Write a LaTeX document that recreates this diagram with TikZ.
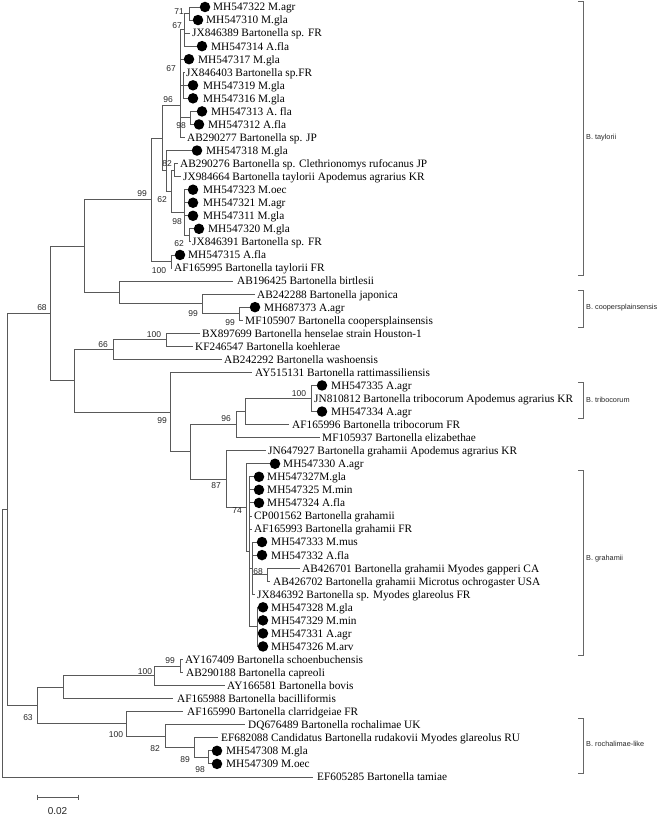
\documentclass[tikz,border=0pt]{standalone}
\usepackage{fontspec}
\setmainfont{Liberation Serif}
\newfontfamily\arialf{Liberation Sans}
\tikzset{
  br/.style={draw=black!65, line width=0.9pt},
  dot/.style={circle, fill=black, inner sep=0pt, minimum size=10.5pt},
  lab/.style={anchor=base west, inner sep=0pt, yshift=-3.9pt, font=\fontsize{11.3}{13}\selectfont},
  bs/.style={font=\arialf\fontsize{8.5}{9}\selectfont, inner sep=0pt, text=black!85},
  brk/.style={draw=black!60, line width=0.9pt},
  cl/.style={anchor=west, font=\arialf\fontsize{7.3}{8}\selectfont, inner sep=0pt, text=black!85}
}
\newcommand{\lfd}[6]{%
  \coordinate (e#1) at (#4,#3);
  \draw[br] (#2) |- (e#1);
  \node[dot] (d#1) at (#4,#3) {};
  \node[lab] (t#1) at (#5,#3) {#6};
}
\newcommand{\lfp}[6]{%
  \coordinate (e#1) at (#4,#3);
  \draw[br] (#2) |- (e#1);
  \node[lab] (t#1) at (#5,#3) {#6};
}
\begin{document}
\begin{tikzpicture}[x=1pt, y=-1pt]
\useasboundingbox (0,0) rectangle (660,818);
% internal nodes
\coordinate (n12) at (189,13.53);
\coordinate (n14) at (184,29.84);
\coordinate (n68) at (183,85.3);
\coordinate (n910) at (190,117.93);
\coordinate (N67) at (180.6,73.88);
\coordinate (N96) at (180,105.69);
\coordinate (n1314) at (174,170.13);
\coordinate (n1819) at (189,235.38);
\coordinate (N98) at (184,212.54);
\coordinate (N62) at (171,191.33);
\coordinate (B) at (166,170.94);
\coordinate (A) at (162,138.31);
\coordinate (n2021) at (171,261.48);
\coordinate (N99) at (151,199.9);
\coordinate (S) at (239,313.68);
\coordinate (R) at (202,303.89);
\coordinate (Q) at (119,292.47);
\coordinate (P) at (84,246.18);
\coordinate (W) at (166,339.78);
\coordinate (U) at (113,349.56);
\coordinate (n3032) at (311,398.5);
\coordinate (N100t) at (245,411.55);
\coordinate (N96t) at (236,424.6);
\coordinate (N68g) at (267,574.68);
\coordinate (G2) at (252,568.15);
\coordinate (G3) at (257,626.88);
\coordinate (G1) at (249,551.84);
\coordinate (N74) at (246,507.8);
\coordinate (N87) at (226,479.25);
\coordinate (X) at (190,451.93);
\coordinate (V) at (170,412.16);
\coordinate (T) at (74,380.86);
\coordinate (N68) at (50,313.52);
\coordinate (n5152) at (180,666.03);
\coordinate (N100b) at (154,675.81);
\coordinate (Nb) at (63,687.23);
\coordinate (n5859) at (208,757.38);
\coordinate (N89) at (194,747.59);
\coordinate (N82c) at (165,736.17);
\coordinate (N100c) at (126,723.94);
\coordinate (N63) at (37,705.58);
\coordinate (R1) at (7,509.55);
\coordinate (R0) at (2,643.25);
% internal branches
\draw[br] (n14) |- (n12);
\draw[br] (N67) |- (n14); \draw[br] (N67) |- (n68); \draw[br] (N67) |- (n910);
\draw[br] (N96) |- (N67);
\draw[br] (A) |- (N96); \draw[br] (A) |- (B);
\draw[br] (B) |- (N62); \draw[br] (N62) |- (n1314); \draw[br] (N62) |- (N98);
\draw[br] (N98) |- (n1819);
\draw[br] (N99) |- (A); \draw[br] (N99) |- (n2021);
\draw[br] (P) |- (N99); \draw[br] (P) |- (Q); \draw[br] (Q) |- (R); \draw[br] (R) |- (S);
\draw[br] (U) |- (W); \draw[br] (T) |- (U); \draw[br] (T) |- (V); \draw[br] (V) |- (X);
\draw[br] (X) |- (N96t); \draw[br] (N96t) |- (N100t); \draw[br] (N100t) |- (n3032);
\draw[br] (X) |- (N87); \draw[br] (N87) |- (N74); \draw[br] (N74) |- (G1);
\draw[br] (G1) |- (G2); \draw[br] (G1) |- (G3); \draw[br] (G2) |- (N68g);
\draw[br] (N68) |- (P); \draw[br] (N68) |- (T);
\draw[br] (Nb) |- (N100b); \draw[br] (N100b) |- (n5152);
\draw[br] (N63) |- (Nb); \draw[br] (N63) |- (N100c);
\draw[br] (N100c) |- (N82c); \draw[br] (N82c) |- (N89); \draw[br] (N89) |- (n5859);
\draw[br] (R1) |- (N68); \draw[br] (R1) |- (N63); \draw[br] (R0) |- (R1);
% leaves
\lfd{1}{n12}{7}{205}{213}{MH547322 M.agr}
\lfd{2}{n12}{20.05}{198}{206}{MH547310 M.gla}
\lfp{3}{n14}{33.1}{190}{192}{JX846389 Bartonella sp. FR}
\lfd{4}{n14}{46.15}{202}{211}{MH547314 A.fla}
\lfd{5}{N67}{59.2}{189}{198}{MH547317 M.gla}
\lfp{6}{n68}{72.25}{185}{186}{JX846403 Bartonella sp.FR}
\lfd{7}{n68}{85.3}{193}{203}{MH547319 M.gla}
\lfd{8}{n68}{98.35}{193}{203}{MH547316 M.gla}
\lfd{9}{n910}{111.4}{202}{211}{MH547313 A. fla}
\lfd{10}{n910}{124.45}{199}{208}{MH547312 A.fla}
\lfp{11}{N96}{137.5}{185}{187}{AB290277 Bartonella sp. JP}
\lfd{12}{B}{150.55}{197}{206}{MH547318 M.gla}
\lfp{13}{n1314}{163.6}{178}{180}{AB290276 Bartonella sp. Clethrionomys rufocanus JP}
\lfp{14}{n1314}{176.65}{181}{183}{JX984664 Bartonella taylorii Apodemus agrarius KR}
\lfd{15}{N98}{189.7}{193}{203}{MH547323 M.oec}
\lfd{16}{N98}{202.75}{193}{203}{MH547321 M.agr}
\lfd{17}{N98}{215.8}{193}{203}{MH547311 M.gla}
\lfd{18}{n1819}{228.85}{199}{208}{MH547320 M.gla}
\lfp{19}{n1819}{241.9}{191}{192}{JX846391 Bartonella sp. FR}
\lfd{20}{n2021}{254.95}{180}{188}{MH547315 A.fla}
\lfp{21}{n2021}{268}{172}{174}{AF165995 Bartonella taylorii FR}
\lfp{22}{Q}{281.05}{233}{237}{AB196425 Bartonella birtlesii}
\lfp{23}{R}{294.1}{255}{257}{AB242288 Bartonella japonica}
\lfd{24}{S}{307.15}{255}{264}{MH687373 A.agr}
\lfp{25}{S}{320.2}{243}{245}{MF105907 Bartonella coopersplainsensis}
\lfp{26}{W}{333.25}{200}{202}{BX897699 Bartonella henselae strain Houston-1}
\lfp{27}{W}{346.3}{193}{195}{KF246547 Bartonella koehlerae}
\lfp{28}{U}{359.35}{222}{224}{AB242292 Bartonella washoensis}
\lfp{29}{V}{372.4}{252}{255}{AY515131 Bartonella rattimassiliensis}
\lfd{30}{n3032}{385.45}{322}{331}{MH547335 A.agr}
\lfp{31}{n3032}{398.5}{312}{314}{JN810812 Bartonella tribocorum Apodemus agrarius KR}
\lfd{32}{n3032}{411.55}{322}{331}{MH547334 A.agr}
\lfp{33}{N100t}{424.6}{289}{292}{AF165996 Bartonella tribocorum FR}
\lfp{34}{N96t}{437.65}{320}{322}{MF105937 Bartonella elizabethae}
\lfp{35}{N87}{450.7}{266}{268}{JN647927 Bartonella grahamii Apodemus agrarius KR}
\lfd{36}{N74}{463.75}{275}{283}{MH547330 A.agr}
\lfd{37}{G1}{476.8}{259}{267}{MH547327M.gla}
\lfd{38}{G1}{489.85}{259}{267}{MH547325 M.min}
\lfd{39}{G1}{502.9}{259}{267}{MH547324 A.fla}
\lfp{40}{G1}{515.95}{252}{254}{CP001562 Bartonella grahamii}
\lfp{41}{G1}{529}{252}{254}{AF165993 Bartonella grahamii FR}
\lfd{42}{G2}{542.05}{262}{271}{MH547333 M.mus}
\lfd{43}{G2}{555.1}{262}{271}{MH547332 A.fla}
\lfp{44}{N68g}{568.15}{300}{302}{AB426701 Bartonella grahamii Myodes gapperi CA}
\lfp{45}{N68g}{581.2}{270}{273}{AB426702 Bartonella grahamii Microtus ochrogaster USA}
\lfp{46}{G2}{594.25}{255}{257}{JX846392 Bartonella sp. Myodes glareolus FR}
\lfd{47}{G3}{607.3}{263}{271}{MH547328 M.gla}
\lfd{48}{G3}{620.35}{263}{271}{MH547329 M.min}
\lfd{49}{G3}{633.4}{263}{271}{MH547331 A.agr}
\lfd{50}{G3}{646.45}{263}{271}{MH547326 M.arv}
\lfp{51}{n5152}{659.5}{183}{185}{AY167409 Bartonella schoenbuchensis}
\lfp{52}{n5152}{672.55}{183}{186}{AB290188 Bartonella capreoli}
\lfp{53}{N100b}{685.6}{225}{227}{AY166581 Bartonella bovis}
\lfp{54}{Nb}{698.65}{173}{177}{AF165988 Bartonella bacilliformis}
\lfp{55}{N100c}{711.7}{183}{187}{AF165990 Bartonella clarridgeiae FR}
\lfp{56}{N82c}{724.75}{245}{248}{DQ676489 Bartonella rochalimae UK}
\lfp{57}{N89}{737.8}{218}{221}{EF682088 Candidatus Bartonella rudakovii Myodes glareolus RU}
\lfd{58}{n5859}{750.85}{217}{226}{MH547308 M.gla}
\lfd{59}{n5859}{763.9}{217}{226}{MH547309 M.oec}
\lfp{60}{R0}{776.95}{313}{317}{EF605285 Bartonella tamiae}
% bootstrap values
\node[bs] (b1) at (179,12) {71};
\node[bs] (b2) at (177,26) {67};
\node[bs] (b3) at (171,69) {67};
\node[bs] (b4) at (168,100) {96};
\node[bs] (b5) at (181,126) {98};
\node[bs] (b6) at (167,164) {82};
\node[bs] (b7) at (162,200) {62};
\node[bs] (b8) at (177,222) {98};
\node[bs] (b9) at (179,244) {62};
\node[bs] (b10) at (159,271) {100};
\node[bs] (b11) at (142,194) {99};
\node[bs] (b12) at (193,314) {99};
\node[bs] (b13) at (230,323) {99};
\node[bs] (b14) at (42,308) {68};
\node[bs] (b15) at (154,335) {100};
\node[bs] (b16) at (103,345) {66};
\node[bs] (b17) at (162,421) {99};
\node[bs] (b18) at (299,394) {100};
\node[bs] (b19) at (226,419) {96};
\node[bs] (b20) at (216,486) {87};
\node[bs] (b21) at (237,511) {74};
\node[bs] (b22) at (258,572) {68};
\node[bs] (b23) at (170,661) {99};
\node[bs] (b24) at (145,672) {100};
\node[bs] (b25) at (28,718) {63};
\node[bs] (b26) at (116,735) {100};
\node[bs] (b27) at (155,749) {82};
\node[bs] (b28) at (185,760) {89};
\node[bs] (b29) at (200,770) {98};
% clade brackets
\draw[brk] (578,1) -- (583,1) -- (583,275) -- (578,275);
\node[cl] (c1) at (586,138) {B. taylorii};
\draw[brk] (578,290) -- (583,290) -- (583,327) -- (578,327);
\node[cl] (c2) at (586,308) {B. coopersplainsensis};
\draw[brk] (578,382) -- (583,382) -- (583,418) -- (578,418);
\node[cl] (c3) at (586,400) {B. tribocorum};
\draw[brk] (578,470) -- (583,470) -- (583,655) -- (578,655);
\node[cl] (c4) at (586,559) {B. grahamii};
\draw[brk] (578,718) -- (583,718) -- (583,773) -- (578,773);
\node[cl] (c5) at (586,744) {B. rochalimae-like};
% scale bar
\coordinate (sb1) at (37,797);
\coordinate (sb2) at (78,797);
\draw[br] (sb1) -- (sb2);
\draw[br] ([yshift=2.5pt]sb1) -- ([yshift=-2.5pt]sb1);
\draw[br] ([yshift=2.5pt]sb2) -- ([yshift=-2.5pt]sb2);
\node[bs, font=\arialf\fontsize{10}{11}\selectfont] (sbl) at (57.5,811) {0.02};
\end{tikzpicture}
\end{document}
